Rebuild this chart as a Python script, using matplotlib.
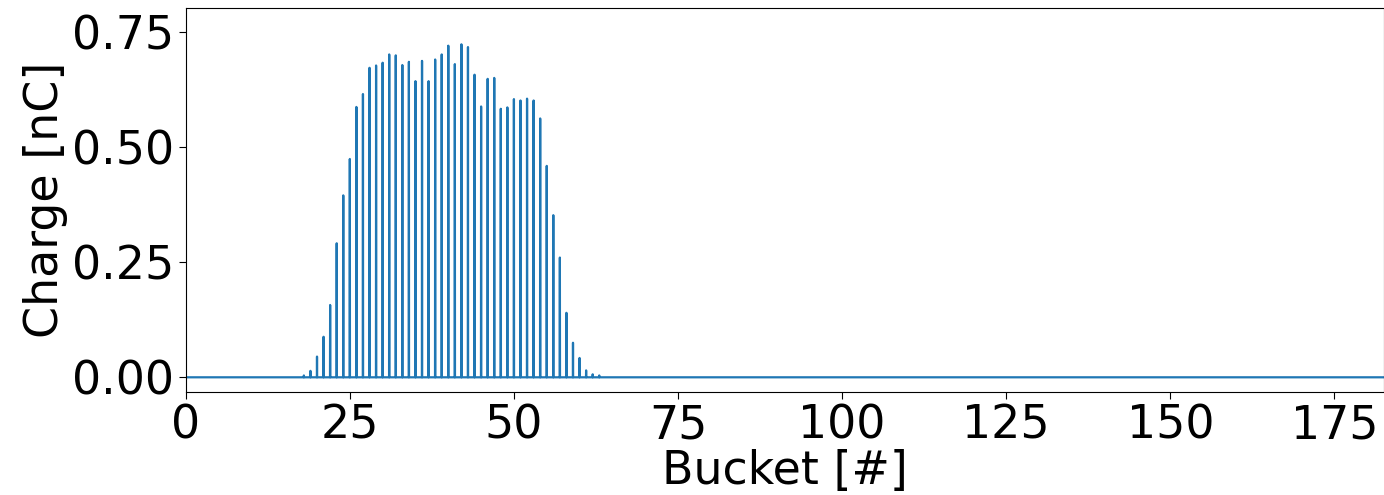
import numpy as np
import matplotlib
matplotlib.use("Agg")
import matplotlib.pyplot as plt

# bucket charges (nC), buckets 18..63
first_bucket = 18
charge = [0.004, 0.014, 0.045, 0.088, 0.157, 0.291, 0.395, 0.474,
          0.587, 0.615, 0.672, 0.677, 0.683, 0.701, 0.699, 0.678,
          0.685, 0.643, 0.687, 0.643, 0.690, 0.701, 0.720, 0.680,
          0.723, 0.717, 0.657, 0.588, 0.648, 0.650, 0.583, 0.586,
          0.604, 0.601, 0.605, 0.601, 0.562, 0.459, 0.352, 0.260,
          0.140, 0.075, 0.042, 0.015, 0.0065, 0.004]
n_buckets = 184

buckets = np.arange(n_buckets)
q = np.zeros(n_buckets)
q[first_bucket:first_bucket + len(charge)] = charge

# each bucket drawn as a narrow pulse on the zero line
x = np.repeat(buckets, 3).astype(float)
x[0::3] -= 0.02
x[2::3] += 0.02
y = np.zeros_like(x)
y[1::3] = q

fig = plt.figure(figsize=(13.84, 4.95), dpi=100)
ax = fig.add_axes([0.1342, 0.208, 0.866, 0.776])
ax.plot(x, y, color="#1f77b4", lw=1.6)

ax.set_xlim(0, 182.6)
ax.set_ylim(-0.032, 0.802)
ax.set_xticks([0, 25, 50, 75, 100, 125, 150, 175])
ax.set_yticks([0.0, 0.25, 0.5, 0.75])
ax.set_yticklabels(["0.00", "0.25", "0.50", "0.75"])
ax.tick_params(labelsize=33, length=5)
ax.set_xlabel("Bucket [#]", fontsize=33, labelpad=0)
ax.set_ylabel("Charge [nC]", fontsize=33, labelpad=2.5)

fig.savefig("out.png", dpi=100)
